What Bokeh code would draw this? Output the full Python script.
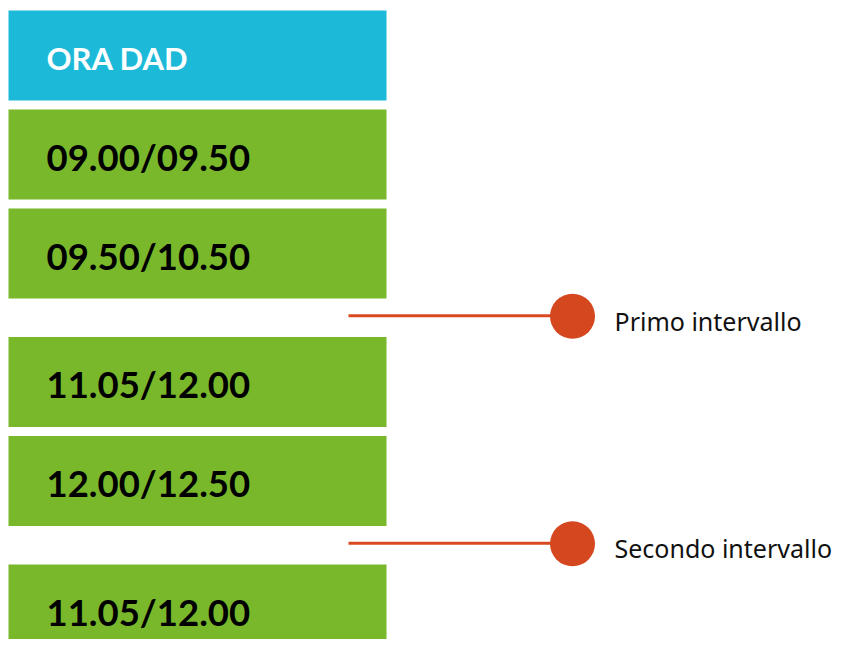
from bokeh.plotting import figure
from bokeh.models import Range1d, ColumnDataSource
from bokeh.core.properties import value
from bokeh.embed import file_html
from bokeh.resources import INLINE

# ---- data ----
header_label = "ORA DAD"
slot_labels = ["09.00/09.50", "09.50/10.50", "11.05/12.00", "12.00/12.50", "11.05/12.00"]
break_after = [1, 3]          # index of slot after which a break occurs
break_labels = ["Primo intervallo", "Secondo intervallo"]

# ---- layout (pixels) ----
W, H = 833, 639
BOX_L, BOX_R = 8, 386
BOX_H = 90
PITCH = 99
BREAK_EXTRA = 29.5
TOP = 10

p = figure(width=W, height=H, output_backend="svg", toolbar_location=None,
           x_range=Range1d(0, W), y_range=Range1d(H, 0),
           min_border=0)
p.axis.visible = False
p.grid.visible = False
p.outline_line_color = None
p.background_fill_color = "white"
p.border_fill_color = "white"

# compute box tops
tops = [TOP]
y = TOP + PITCH
break_ys = []
for i, lab in enumerate(slot_labels):
    tops.append(y)
    y += PITCH
    if i in break_after:
        gap_top = y - (PITCH - BOX_H)
        gap_bot = y + BREAK_EXTRA
        break_ys.append((gap_top + gap_bot) / 2 - 2)
        y += BREAK_EXTRA

colors = ["#1DB9D9"] + ["#79B82B"] * len(slot_labels)
src = ColumnDataSource(dict(
    left=[BOX_L] * len(tops), right=[BOX_R] * len(tops),
    top=tops, bottom=[t + BOX_H for t in tops], color=colors))
p.quad(left="left", right="right", top="top", bottom="bottom", fill_color="color",
       line_color=None, source=src)

# header text
p.text(x=[46], y=[TOP + BOX_H / 2 + 2.5], text=[header_label], text_color="white",
       text_font=value("Lato"), text_font_style="bold", text_font_size="31px",
       text_baseline="middle", text_align="left")

# slot texts
p.text(x=[46] * len(slot_labels), y=[t + BOX_H / 2 + 2 for t in tops[1:]], text=slot_labels,
       text_color="black", text_font=value("Lato"), text_font_style="bold",
       text_font_size="36.5px", text_baseline="middle", text_align="left")

# break markers
for by, lab in zip(break_ys, break_labels):
    p.line(x=[348, 572], y=[by, by], line_color="#D8491F", line_width=3)
    p.scatter(x=[572], y=[by + 0.5], size=45, fill_color="#D4471F", line_color=None)
    p.text(x=[614], y=[by + 5], text=[lab], text_color="#111111",
           text_font=value("Noto Sans"), text_font_size="25px",
           text_baseline="middle", text_align="left")

open("out.html", "w").write(file_html(p, INLINE))
